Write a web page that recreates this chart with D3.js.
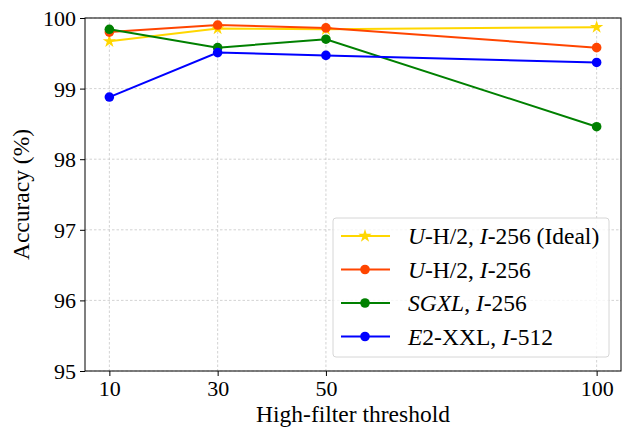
<!DOCTYPE html>
<html>
<head>
<meta charset="utf-8">
<script src="https://cdn.jsdelivr.net/npm/d3@7"></script>
<style>
  body { margin: 0; background: #fff; }
  text { font-family: "Liberation Serif", "Times New Roman", serif; fill: #000; }
</style>
</head>
<body>
<div id="chart"></div>
<script>
// thresholds on the x axis
var thresholds = [10, 30, 50, 100];
var yTicks = [95, 96, 97, 98, 99, 100];

// accuracy (%) per series
var idealUH2 = [99.67, 99.85, 99.84, 99.87];
var uH2 = [99.80, 99.90, 99.86, 99.58];
var sgxl = [99.84, 99.58, 99.70, 98.46];
var e2xxl = [98.88, 99.51, 99.47, 99.37];

var series = [
  { parts: [["U", true], ["-H/2, ", false], ["I", true], ["-256 (Ideal)", false]], color: "#FFD700", marker: "star", values: idealUH2 },
  { parts: [["U", true], ["-H/2, ", false], ["I", true], ["-256", false]], color: "#FF4500", marker: "circle", values: uH2 },
  { parts: [["SGXL", true], [", ", false], ["I", true], ["-256", false]], color: "#008000", marker: "circle", values: sgxl },
  { parts: [["E", true], ["2-XXL, ", false], ["I", true], ["-512", false]], color: "#0000FF", marker: "circle", values: e2xxl }
];

var width = 627, height = 428;
var margin = { left: 85, right: 6, top: 18, bottom: 57 };

var svg = d3.select("#chart").append("svg")
  .attr("width", width)
  .attr("height", height);

var x = d3.scaleLinear().domain([5.5, 104.5]).range([margin.left, width - margin.right]);
var y = d3.scaleLinear().domain([95, 100]).range([height - margin.bottom, margin.top]);

// grid
var grid = svg.append("g").attr("stroke", "#c8c8c8").attr("stroke-width", 0.8).attr("stroke-dasharray", "2.5,2");
grid.selectAll(".gx").data(thresholds).enter().append("line")
  .attr("x1", d => x(d)).attr("x2", d => x(d))
  .attr("y1", margin.top).attr("y2", height - margin.bottom);
grid.selectAll(".gy").data(yTicks).enter().append("line")
  .attr("x1", margin.left).attr("x2", width - margin.right)
  .attr("y1", d => y(d)).attr("y2", d => y(d));

// axes
var xAxis = svg.append("g")
  .attr("transform", "translate(0," + (height - margin.bottom) + ")")
  .call(d3.axisBottom(x).tickValues(thresholds).tickFormat(d3.format("d")).tickSize(5).tickPadding(4));
var yAxis = svg.append("g")
  .attr("transform", "translate(" + margin.left + ",0)")
  .call(d3.axisLeft(y).tickValues(yTicks).tickFormat(d3.format("d")).tickSize(5).tickPadding(4));

[xAxis, yAxis].forEach(function (a) {
  a.select(".domain").remove();
  a.selectAll("text").style("font-size", "22px").style("font-family", "Liberation Serif");
  a.selectAll("line").attr("stroke", "#000").attr("stroke-width", 1);
});
yAxis.selectAll("text").attr("dy", "0.34em");

// frame
svg.append("rect")
  .attr("x", margin.left).attr("y", margin.top)
  .attr("width", width - margin.right - margin.left)
  .attr("height", height - margin.bottom - margin.top)
  .attr("fill", "none").attr("stroke", "#000").attr("stroke-width", 1);

var line = d3.line()
  .x((d, i) => x(thresholds[i]))
  .y(d => y(d));

var star = d3.symbol().type(d3.symbolStar).size(55);

series.forEach(function (s) {
  var g = svg.append("g");
  g.append("path")
    .attr("d", line(s.values))
    .attr("fill", "none")
    .attr("stroke", s.color)
    .attr("stroke-width", 2);
  if (s.marker === "star") {
    g.selectAll("path.m").data(s.values).enter().append("path")
      .attr("class", "m")
      .attr("d", star)
      .attr("transform", (d, i) => "translate(" + x(thresholds[i]) + "," + y(d) + ")")
      .attr("fill", s.color);
  } else {
    g.selectAll("circle").data(s.values).enter().append("circle")
      .attr("cx", (d, i) => x(thresholds[i]))
      .attr("cy", d => y(d))
      .attr("r", 4.8)
      .attr("fill", s.color);
  }
});

// axis labels
svg.append("text")
  .attr("x", (margin.left + width - margin.right) / 2)
  .attr("y", 422)
  .attr("text-anchor", "middle")
  .style("font-size", "23.5px")
  .text("High-filter threshold");

svg.append("text")
  .attr("transform", "translate(29," + ((margin.top + height - margin.bottom) / 2) + ") rotate(-90)")
  .attr("text-anchor", "middle")
  .style("font-size", "23.5px")
  .text("Accuracy (%)");

// legend
var legend = svg.append("g");
legend.append("rect")
  .attr("x", 333).attr("y", 218)
  .attr("width", 276).attr("height", 139)
  .attr("rx", 3)
  .attr("fill", "#fff").attr("fill-opacity", 0.8)
  .attr("stroke", "#d6d6d6").attr("stroke-width", 1);

series.forEach(function (s, i) {
  var ly = 236 + i * 33.5;
  legend.append("line")
    .attr("x1", 341).attr("x2", 390)
    .attr("y1", ly).attr("y2", ly)
    .attr("stroke", s.color).attr("stroke-width", 2);
  if (s.marker === "star") {
    legend.append("path").attr("d", star).attr("transform", "translate(365," + ly + ")").attr("fill", s.color);
  } else {
    legend.append("circle").attr("cx", 365).attr("cy", ly).attr("r", 4.8).attr("fill", s.color);
  }
  var t = legend.append("text")
    .attr("x", 408).attr("y", ly)
    .attr("dy", "0.35em")
    .style("font-size", "23.5px");
  s.parts.forEach(function (p) {
    t.append("tspan").style("font-style", p[1] ? "italic" : "normal").text(p[0]);
  });
});
</script>
</body>
</html>
